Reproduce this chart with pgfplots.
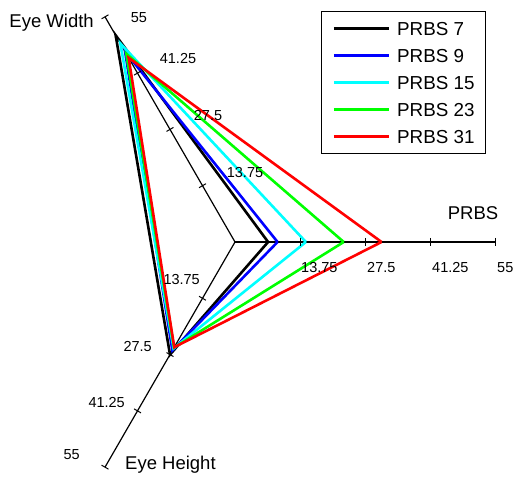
\documentclass[border=0pt]{standalone}
\usepackage{pgfplots}
\pgfplotsset{compat=1.18}
\usepackage{fontspec}
\setmainfont{Liberation Sans}
\definecolor{mblue}{RGB}{0,0,255}
\definecolor{mcyan}{RGB}{0,255,255}
\definecolor{mgreen}{RGB}{0,255,0}
\definecolor{mred}{RGB}{255,0,0}
\begin{document}
\begin{tikzpicture}
\useasboundingbox (0,0) rectangle (515bp,477bp);
\begin{axis}[at={(0,0)}, anchor=south west, scale only axis,
  width=515bp, height=477bp,
  xmin=-49.712, xmax=59.231, ymin=-49.712, ymax=51.192,
  axis lines=none, clip=false,
  legend style={at={(0.9437,0.9769)}, anchor=north east, draw=black, line width=1bp,
    fill=white, font=\fontsize{18.8bp}{21bp}\selectfont,
    inner xsep=11bp, inner ysep=10bp, row sep=13bp, column sep=7bp,
    nodes={inner sep=0pt, text height=13.5bp, text depth=0.5bp}},
  legend cell align=left,
  legend image code/.code={\draw[#1] (0bp,0bp) -- (55bp,0bp);},
]
% axes
\addplot[black, line width=1.2bp, data cs=polar, forget plot] coordinates {(0,0) (0,55)};
\addplot[black, line width=1.2bp, data cs=polar, forget plot] coordinates {(120,0) (120,55)};
\addplot[black, line width=1.2bp, data cs=polar, forget plot] coordinates {(240,0) (240,55)};
\addplot[black, only marks, mark=|, mark size=4bp, mark options={line width=1bp}, data cs=polar, forget plot]
  coordinates {(0,13.75) (0,27.5) (0,41.25) (0,55)};
\addplot[black, only marks, mark=|, mark size=4bp, mark options={line width=1bp, rotate=120}, data cs=polar, forget plot]
  coordinates {(120,13.75) (120,27.5) (120,41.25) (120,55)};
\addplot[black, only marks, mark=|, mark size=4bp, mark options={line width=1bp, rotate=240}, data cs=polar, forget plot]
  coordinates {(240,13.75) (240,27.5) (240,41.25) (240,55)};
% series: (PRBS, Eye Width, Eye Height)
\addplot[black, line width=2.6bp, data cs=polar] coordinates {(0,7) (120,50.5) (240,27.5) (0,7)};
\addlegendentry{PRBS 7}
\addplot[mblue, line width=2.6bp, data cs=polar] coordinates {(0,9) (120,46.5) (240,26.5) (0,9)};
\addlegendentry{PRBS 9}
\addplot[mcyan, line width=2.6bp, data cs=polar] coordinates {(0,15) (120,48.5) (240,26) (0,15)};
\addlegendentry{PRBS 15}
\addplot[mgreen, line width=2.6bp, data cs=polar] coordinates {(0,23) (120,46) (240,25.8) (0,23)};
\addlegendentry{PRBS 23}
\addplot[mred, line width=2.6bp, data cs=polar] coordinates {(0,31) (120,45) (240,25.7) (0,31)};
\addlegendentry{PRBS 31}
\end{axis}
\begin{scope}[font=\fontsize{18.5bp}{21bp}\selectfont]
\node[anchor=east, inner sep=0pt] at (94bp,454bp) {Eye Width};
\node[inner sep=0pt] at (473bp,264bp) {PRBS};
\node[anchor=west, inner sep=0pt] at (125bp,12bp) {Eye Height};
\end{scope}
\begin{scope}[font=\fontsize{14.5bp}{17bp}\selectfont]
% Eye Width tick labels
\node[inner sep=0pt] at (139bp,459bp) {55};
\node[inner sep=0pt] at (178bp,418bp) {41.25};
\node[inner sep=0pt] at (208bp,361bp) {27.5};
\node[inner sep=0pt] at (245bp,304bp) {13.75};
% PRBS tick labels
\node[anchor=west, inner sep=0pt] at (301bp,209bp) {13.75};
\node[anchor=west, inner sep=0pt] at (367bp,209bp) {27.5};
\node[anchor=west, inner sep=0pt] at (432bp,209bp) {41.25};
\node[anchor=west, inner sep=0pt] at (497bp,209bp) {55};
% Eye Height tick labels
\node[anchor=east, inner sep=0pt] at (200bp,197bp) {13.75};
\node[anchor=east, inner sep=0pt] at (152bp,130bp) {27.5};
\node[anchor=east, inner sep=0pt] at (125bp,74bp) {41.25};
\node[anchor=east, inner sep=0pt] at (80bp,22bp) {55};
\end{scope}
\end{tikzpicture}
\end{document}
